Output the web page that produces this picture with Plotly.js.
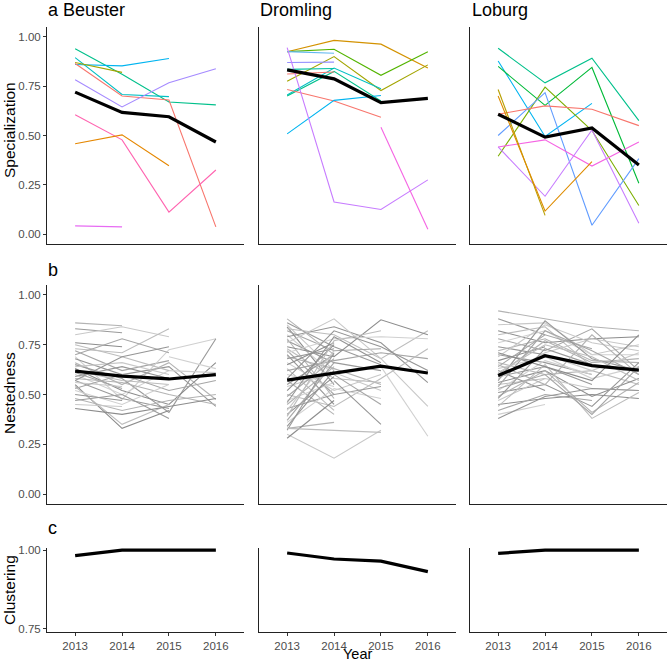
<!DOCTYPE html>
<html>
<head>
<meta charset="utf-8">
<script src="https://cdn.plot.ly/plotly-3.0.1.min.js"></script>
<style>body{margin:0;background:#fff}#graph{width:668px;height:664px}</style>
</head>
<body>
<div id="graph"></div>
<script>
var years = [2013, 2014, 2015, 2016];
var sites = ['a Beuster', 'Dromling', 'Loburg'];

// Specialization: one row per group, values for 2013..2016
var specBeuster = [
    [0.94, 0.81, 0.67, 0.655],
    [0.895, 0.708, 0.697, null],
    [0.86, 0.853, 0.89, null],
    [0.87, 0.82, null, null],
    [0.865, 0.70, 0.68, 0.037],
    [0.783, 0.645, 0.767, 0.838],
    [0.605, 0.478, 0.112, 0.325],
    [0.458, 0.503, 0.347, null],
    [0.042, 0.037, null, null]
];
var specBeusterCol = ['#00C08B', '#00BFC4', '#00B4F0', '#A3A500', '#F8766D', '#A58AFF', '#FF64B0', '#E58700', '#E76BF3'];
var specDromling = [
    [0.925, 0.982, 0.963, 0.842],
    [0.925, 0.937, 0.805, 0.925],
    [0.775, 0.90, 0.728, 0.858],
    [0.925, 0.917, null, null],
    [0.87, 0.872, null, null],
    [0.705, 0.842, 0.737, null],
    [0.70, 0.825, 0.675, null],
    [0.835, 0.84, null, null],
    [0.812, 0.822, null, null],
    [0.733, 0.675, 0.592, null],
    [0.508, 0.678, 0.703, null],
    [0.945, 0.163, 0.125, 0.275],
    [null, null, 0.542, 0.025]
];
var specDromlingCol = ['#D39200', '#53B400', '#A3A500', '#61B8F0', '#9590FF', '#00BFC4', '#00C08B', '#00C1A3', '#F8766D', '#F8766D', '#00B4F0', '#C77CFF', '#F564E3'];
var specLoburg = [
    [0.942, 0.767, 0.892, 0.575],
    [0.878, 0.495, 0.663, null],
    [0.85, 0.653, 0.845, 0.258],
    [0.395, 0.745, 0.525, 0.145],
    [0.50, 0.717, 0.045, 0.383],
    [0.608, 0.65, 0.633, 0.55],
    [0.442, 0.478, 0.345, 0.467],
    [0.442, 0.192, 0.528, 0.055],
    [0.733, 0.095, null, null],
    [0.70, 0.117, 0.367, null]
];
var specLoburgCol = ['#00C08B', '#00B4F0', '#00BA38', '#7CAE00', '#619CFF', '#F8766D', '#F564E3', '#C77CFF', '#B79F00', '#DE8C00'];
var specMean = [
    [0.72, 0.617, 0.595, 0.467],
    [0.833, 0.787, 0.667, 0.688],
    [0.608, 0.492, 0.538, 0.35]
];

// Nestedness
var nestBeuster = [
    [0.86, 0.845, null, null], [0.83, 0.81, null, null], [0.80, 0.84, 0.79, null],
    [0.76, 0.74, null, null], [0.73, 0.71, 0.83, null], [0.72, 0.62, 0.67, null],
    [0.69, 0.475, 0.725, 0.78], [0.68, 0.60, 0.64, 0.44], [0.66, 0.55, 0.66, 0.475],
    [0.65, 0.58, 0.41, 0.78], [0.64, 0.66, 0.60, null], [0.63, 0.52, 0.45, 0.66],
    [0.62, 0.57, 0.55, null], [0.61, 0.53, null, null], [0.60, 0.50, 0.62, 0.61],
    [0.59, 0.64, 0.58, null], [0.58, 0.56, 0.50, 0.45], [0.57, 0.48, 0.43, null],
    [0.56, 0.54, null, null], [0.55, 0.33, 0.42, null], [0.54, 0.35, 0.45, null],
    [0.53, 0.60, 0.52, 0.57], [0.52, 0.45, 0.55, null], [0.50, 0.47, null, null],
    [0.48, 0.42, 0.47, 0.50], [0.47, 0.50, 0.38, null], [0.45, 0.44, null, null],
    [0.43, 0.40, 0.44, 0.48], [0.75, 0.69, 0.62, null], [0.70, 0.78, 0.71, null],
    [null, null, 0.69, 0.63], [0.57, 0.69, 0.74, null]
];
var nestDromling = [
    [0.88, 0.70, null, null], [0.86, 0.74, 0.65, null], [0.85, 0.62, null, null],
    [0.84, 0.55, null, null], [0.83, 0.80, 0.68, 0.82], [0.82, 0.72, 0.73, null],
    [0.80, 0.60, null, null], [0.79, 0.84, 0.76, 0.56], [0.78, 0.48, null, null],
    [0.77, 0.66, 0.62, null], [0.76, 0.88, 0.68, 0.44], [0.74, 0.69, 0.875, 0.80],
    [0.73, 0.58, 0.56, null], [0.72, 0.50, null, null], [0.71, 0.78, 0.79, 0.78],
    [0.70, 0.45, null, null], [0.69, 0.63, 0.55, null], [0.68, 0.73, null, null],
    [0.66, 0.52, 0.60, null], [0.65, 0.76, null, null], [0.63, 0.42, null, null],
    [0.62, 0.67, 0.71, 0.68], [0.60, 0.54, null, null], [0.58, 0.82, 0.74, 0.62],
    [0.57, 0.40, null, null], [0.55, 0.70, null, null], [0.54, 0.61, 0.52, null],
    [0.52, 0.75, null, null], [0.50, 0.44, 0.58, 0.73], [0.49, 0.68, null, null],
    [0.47, 0.56, null, null], [0.46, 0.79, 0.66, null], [0.45, 0.64, null, null],
    [0.43, 0.50, 0.54, null], [0.42, 0.72, null, null], [0.40, 0.59, null, null],
    [0.39, 0.77, 0.82, null], [0.37, 0.66, null, null], [0.36, 0.53, 0.48, null],
    [0.34, 0.62, null, null], [0.33, 0.36, null, null], [0.32, 0.71, null, null],
    [0.30, 0.18, 0.32, null], [0.28, 0.47, null, null], [0.33, null, 0.31, null],
    [null, 0.60, 0.45, null], [null, null, 0.64, 0.29], [null, 0.57, 0.35, null]
];
var nestLoburg = [
    [0.92, 0.88, 0.84, 0.82], [0.88, 0.80, null, null], [0.85, 0.86, 0.70, 0.75],
    [0.82, 0.76, 0.78, 0.79], [0.80, 0.84, 0.64, null], [0.78, 0.72, 0.83, 0.62],
    [0.76, 0.82, 0.70, 0.70], [0.74, 0.70, null, null], [0.72, 0.78, 0.67, 0.66],
    [0.70, 0.66, 0.60, null], [0.69, 0.85, 0.76, 0.72], [0.67, 0.74, null, null],
    [0.66, 0.60, 0.62, 0.55], [0.64, 0.80, 0.73, null], [0.63, 0.69, 0.58, 0.64],
    [0.62, 0.52, null, null], [0.60, 0.77, 0.66, 0.68], [0.59, 0.64, 0.55, null],
    [0.58, 0.71, 0.78, 0.74], [0.56, 0.62, 0.49, 0.58], [0.55, 0.58, null, null],
    [0.54, 0.82, 0.72, 0.60], [0.52, 0.67, 0.60, null], [0.51, 0.55, 0.44, 0.66],
    [0.49, 0.62, 0.41, 0.56], [0.48, 0.73, 0.65, null], [0.47, 0.58, 0.53, 0.52],
    [0.45, 0.48, 0.50, 0.48], [0.44, 0.65, 0.38, 0.51], [0.42, 0.50, 0.47, null],
    [0.40, 0.45, null, null], [0.38, 0.49, 0.53, 0.52], [0.65, 0.55, 0.80, 0.60],
    [0.57, 0.87, 0.68, 0.62], [null, 0.70, 0.62, 0.71], [0.71, 0.64, 0.57, 0.80],
    [0.61, 0.75, 0.69, 0.57], [0.53, 0.60, 0.40, 0.64]
];
var nestMean = [
    [0.617, 0.592, 0.578, 0.60],
    [0.572, 0.608, 0.642, 0.608],
    [0.595, 0.695, 0.645, 0.622]
];

// Clustering
var clustMean = [
    [0.983, 1.0, 1.0, 1.0],
    [0.991, 0.972, 0.965, 0.932],
    [0.99, 1.0, 1.0, 1.0]
];

var greys = ['#b3b3b3', '#9a9a9a', '#c8c8c8', '#8c8c8c', '#bdbdbd', '#a6a6a6', '#d0d0d0', '#959595'];

var data = [];
function ax(k) { return k === 1 ? '' : String(k); }
function addLine(y, k, color, width) {
    data.push({
        x: years, y: y, type: 'scatter', mode: 'lines', connectgaps: true,
        xaxis: 'x' + ax(k), yaxis: 'y' + ax(k),
        line: {color: color, width: width}, hoverinfo: 'skip', showlegend: false
    });
}

var specSets = [[specBeuster, specBeusterCol], [specDromling, specDromlingCol], [specLoburg, specLoburgCol]];
var nestSets = [nestBeuster, nestDromling, nestLoburg];
for (var c = 0; c < 3; c++) {
    specSets[c][0].forEach(function (v, i) { addLine(v, c + 1, specSets[c][1][i], 1.1); });
    addLine(specMean[c], c + 1, '#000000', 3.2);
    nestSets[c].forEach(function (v, i) { addLine(v, c + 4, greys[i % greys.length], 1.1); });
    addLine(nestMean[c], c + 4, '#000000', 3.2);
    addLine(clustMean[c], c + 7, '#000000', 3.2);
}

var W = 668, H = 664;
var colPx = [[47, 244], [259, 456], [470, 667]];
var rowPx = [[27, 244], [285, 504], [548, 632]];
var fontF = 'Liberation Sans, Arial, sans-serif';

var layout = {
    width: W, height: H,
    margin: {l: 0, r: 0, t: 0, b: 0},
    paper_bgcolor: '#fff', plot_bgcolor: '#fff',
    font: {family: fontF},
    showlegend: false,
    annotations: []
};

for (var r = 0; r < 3; r++) {
    for (var c2 = 0; c2 < 3; c2++) {
        var k = r * 3 + c2 + 1;
        layout['xaxis' + ax(k)] = {
            domain: [colPx[c2][0] / W, colPx[c2][1] / W],
            anchor: 'y' + ax(k),
            range: [2012.4, 2016.6],
            tickvals: years, ticktext: years.map(String),
            showticklabels: r === 2,
            ticks: r === 2 ? 'outside' : '', ticklen: 3, tickcolor: '#333',
            tickfont: {size: 11.5, color: '#4d4d4d', family: fontF},
            showline: true, linecolor: '#222', linewidth: 1,
            showgrid: false, zeroline: false, fixedrange: true
        };
        layout['yaxis' + ax(k)] = {
            domain: [1 - rowPx[r][1] / H, 1 - rowPx[r][0] / H],
            anchor: 'x' + ax(k),
            range: r === 2 ? [0.74, 1.007] : [-0.05, 1.05],
            tickvals: r === 2 ? [0.75, 1.0] : [0, 0.25, 0.5, 0.75, 1],
            ticktext: r === 2 ? ['0.75', '1.00'] : ['0.00', '0.25', '0.50', '0.75', '1.00'],
            showticklabels: c2 === 0,
            ticks: c2 === 0 ? 'outside' : '', ticklen: 3, tickcolor: '#333',
            tickfont: {size: 11.5, color: '#4d4d4d', family: fontF},
            showline: true, linecolor: '#222', linewidth: 1,
            showgrid: false, zeroline: false, fixedrange: true
        };
    }
}

function note(text, xpx, ypx, size, opts) {
    var a = {
        text: text, xref: 'paper', yref: 'paper',
        x: xpx / W, y: 1 - ypx / H,
        xanchor: 'left', yanchor: 'middle', showarrow: false,
        font: {size: size, color: '#000', family: fontF}
    };
    for (var key in opts) a[key] = opts[key];
    layout.annotations.push(a);
}
note(sites[0], 46, 10, 18);
note(sites[1], 258, 10, 18);
note(sites[2], 470, 10, 18);
note('b', 46, 270, 18);
note('c', 46, 528, 18);
note('Specialization', 9, 130, 15.5, {xanchor: 'center', textangle: -90});
note('Nestedness', 9, 393, 15.5, {xanchor: 'center', textangle: -90});
note('Clustering', 9, 590, 15.5, {xanchor: 'center', textangle: -90});
note('Year', 358, 654, 14.5, {xanchor: 'center'});

Plotly.newPlot('graph', data, layout, {staticPlot: true});
</script>
</body>
</html>
